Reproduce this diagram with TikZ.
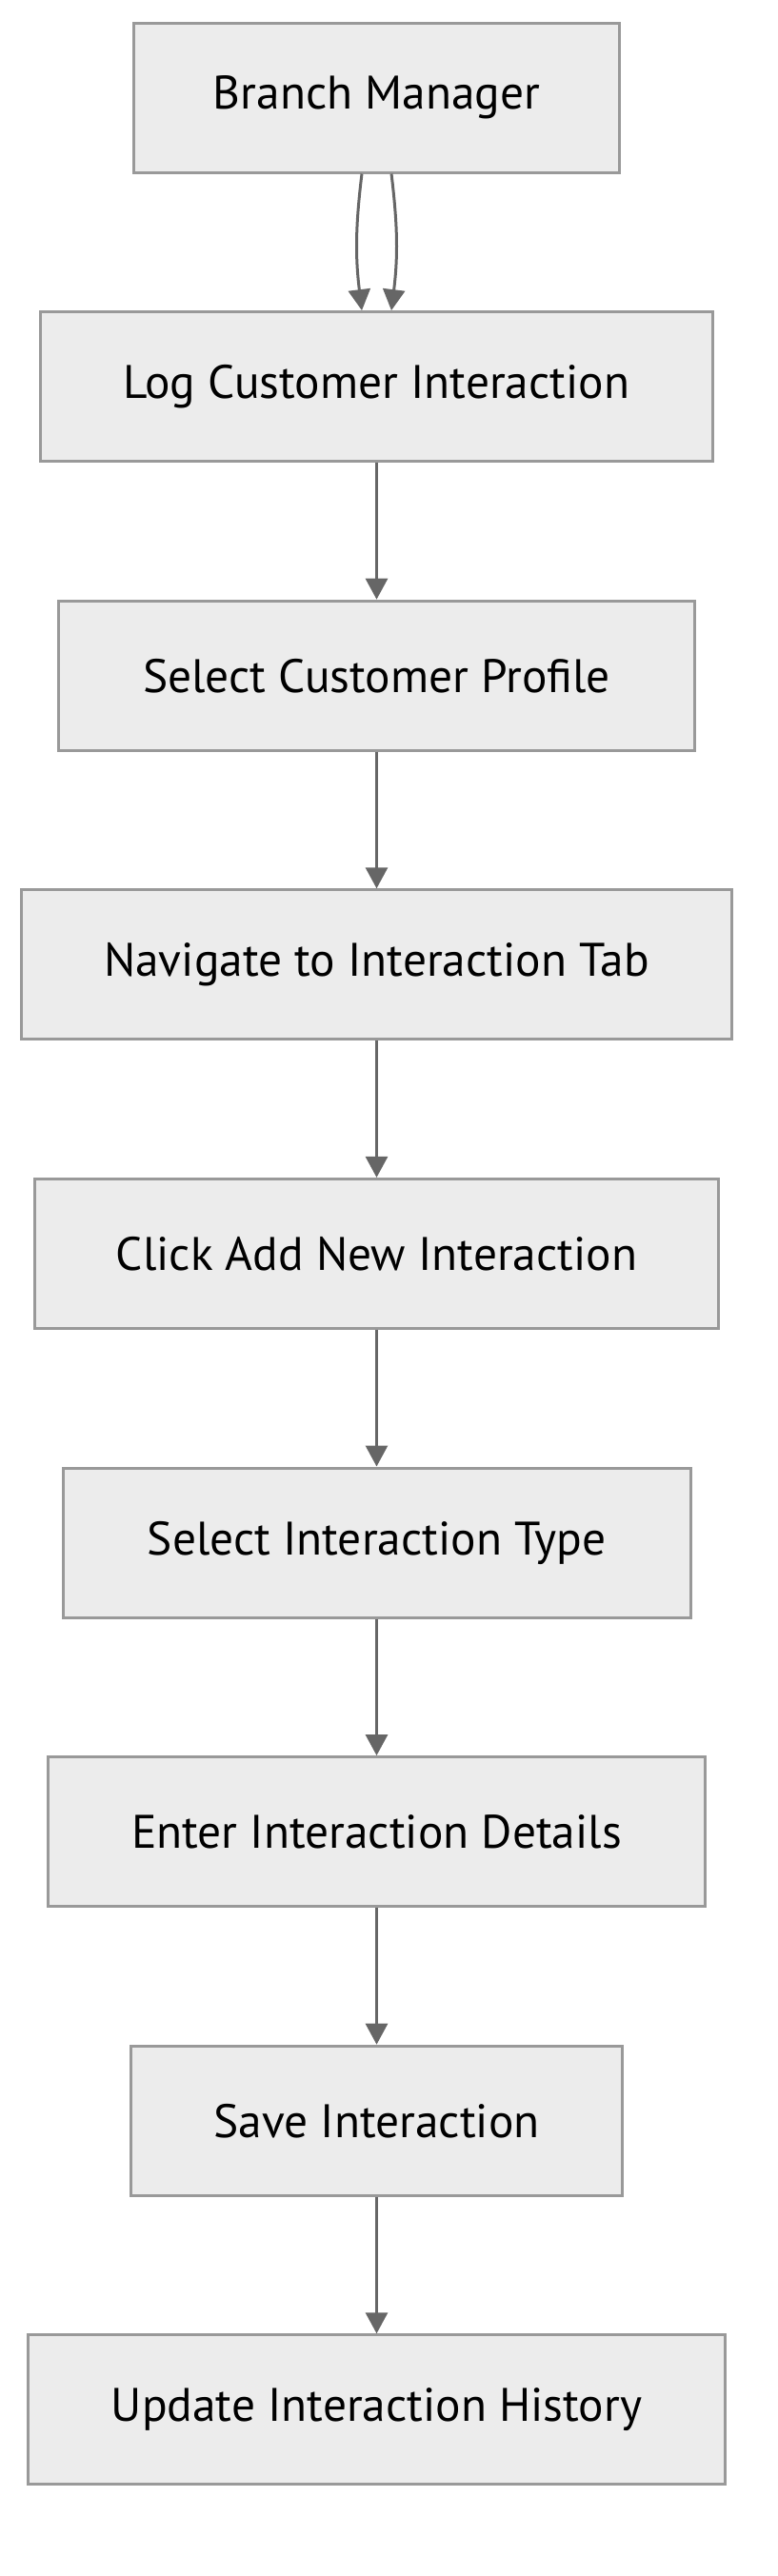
\documentclass[tikz,border=0pt]{standalone}
\usepackage{fontspec}
\setmainfont{PT Sans}
\usetikzlibrary{arrows.meta, positioning}
\definecolor{boxfill}{HTML}{ECECEC}
\definecolor{boxline}{HTML}{999999}
\definecolor{linkgray}{HTML}{666666}

\begin{document}
\begin{tikzpicture}[
    node distance=71.8pt,
    stepbox/.style={rectangle, draw=boxline, fill=boxfill, line width=1.5pt, minimum height=78.5pt, align=center, font=\fontsize{24.7pt}{29pt}\selectfont},
    arrow/.style={-{Triangle[length=11pt, width=11.5pt]}, draw=linkgray, line width=1.5pt}
]
    \useasboundingbox (0,0) rectangle (408pt,-1353pt);
    \node[stepbox, minimum width=255pt] (mgr) at (197.75pt,-51.25pt) {Branch Manager};
    \node[stepbox, minimum width=353pt, below=of mgr] (logci) {Log Customer Interaction};
    \node[stepbox, minimum width=334pt, below=of logci] (profile) {Select Customer Profile};
    \node[stepbox, minimum width=373pt, below=of profile] (navtab) {Navigate to Interaction Tab};
    \node[stepbox, minimum width=359pt, below=of navtab] (addnew) {Click Add New Interaction};
    \node[stepbox, minimum width=329.5pt, below=of addnew] (itype) {Select Interaction Type};
    \node[stepbox, minimum width=345pt, below=of itype] (details) {Enter Interaction Details};
    \node[stepbox, minimum width=258pt, below=of details] (save) {Save Interaction};
    \node[stepbox, minimum width=366pt, below=of save] (history) {Update Interaction History};

    \draw[arrow] ([xshift=-7.75pt]mgr.south) to[out=-97, in=97] ([xshift=-7.75pt]logci.north);
    \draw[arrow] ([xshift=7.75pt]mgr.south) to[out=-83, in=83] ([xshift=7.75pt]logci.north);
    \draw[arrow] (logci) -- (profile);
    \draw[arrow] (profile) -- (navtab);
    \draw[arrow] (navtab) -- (addnew);
    \draw[arrow] (addnew) -- (itype);
    \draw[arrow] (itype) -- (details);
    \draw[arrow] (details) -- (save);
    \draw[arrow] (save) -- (history);
\end{tikzpicture}
\end{document}
